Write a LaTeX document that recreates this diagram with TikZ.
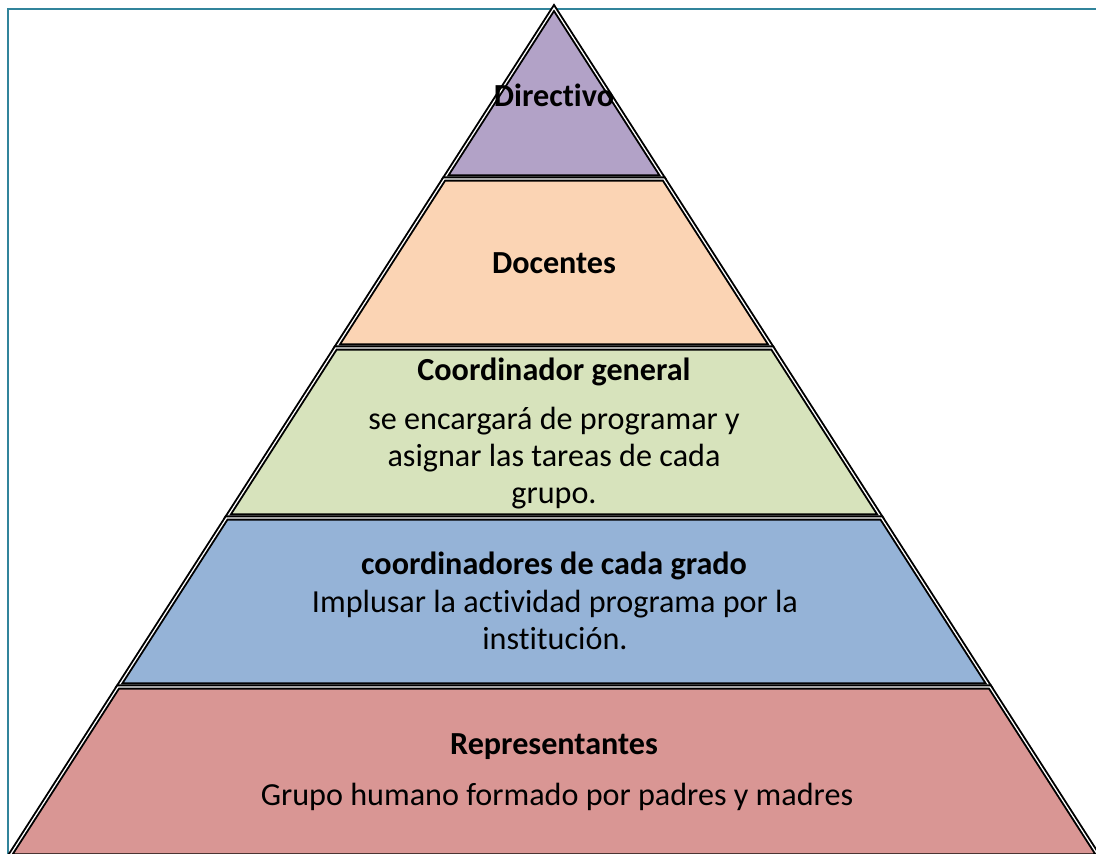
\documentclass[tikz,border=0pt]{standalone}
\usepackage{fontspec}
\setmainfont{Carlito}[RawFeature=-liga]
\definecolor{framecol}{HTML}{31849B}
\definecolor{dircol}{HTML}{B2A2C7}
\definecolor{doccol}{HTML}{FBD4B4}
\definecolor{coocol}{HTML}{D7E3BC}
\definecolor{grdcol}{HTML}{95B3D7}
\definecolor{repcol}{HTML}{D99694}
\tikzset{
  lyr/.style={draw=black, line width=1.1pt, double=white, double distance=0.7pt, line join=miter},
  ttl/.style={font=\fontsize{18.3}{21}\selectfont\bfseries, align=center, inner sep=0pt},
  txt/.style={font=\fontsize{18.3}{21}\selectfont, align=center, inner sep=0pt},
}

\begin{document}
\begin{tikzpicture}[x=0.02cm, y=-0.02cm]

\useasboundingbox (0,0) rectangle (1096,854);
\clip (0,0) rectangle (1096,854);
\fill[white] (0,0) rectangle (1096,854);

% frame
\draw[framecol, line width=1.5pt] (8,900) -- (8,9) -- (1150,9);

% layers of the pyramid
\foreach \yt/\yb/\col in {8/177/dircol, 179/346/doccol, 348/516/coocol, 518/685/grdcol, 687/856/repcol} {
  \filldraw[lyr, fill=\col]
    ({554-(\yt-8)*0.642},\yt) -- ({554+(\yt-8)*0.642},\yt) --
    ({554+(\yb-8)*0.642},\yb) -- ({554-(\yb-8)*0.642},\yb) -- cycle;
}

\node[ttl] (dir) at (554,95) {Directivo};
\node[ttl] (doc) at (554,263) {Docentes};
\node[ttl] (coo) at (554,372) {Coordinador general};
\node[txt] (cootxt) at (554,458) {se encargará de programar y\\asignar las tareas de cada\\grupo.};
\node[ttl] (grd) at (554,566) {coordinadores de cada grado};
\node[txt] (grdtxt) at (555,620) {Implusar la actividad programa por la\\institución.};
\node[ttl] (rep) at (554,747) {Representantes};
\node[txt] (reptxt) at (557,797) {Grupo humano formado por padres y madres};

\end{tikzpicture}
\end{document}
